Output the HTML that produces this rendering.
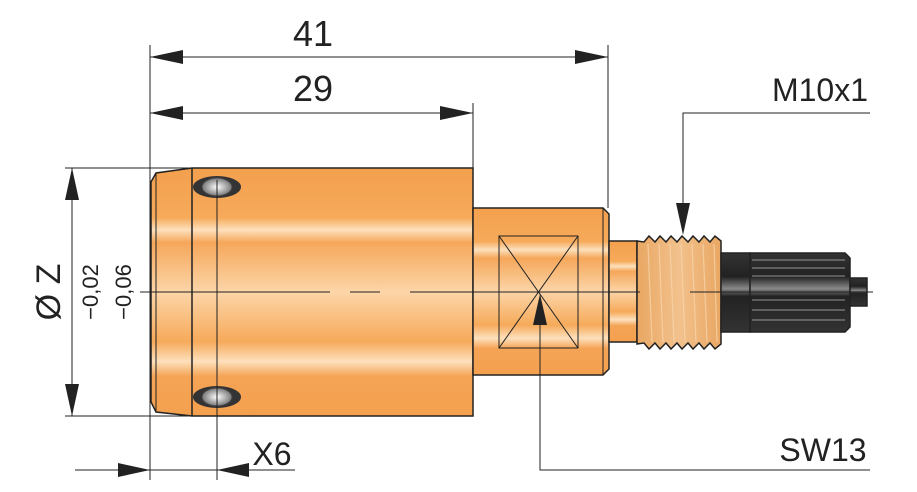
<!DOCTYPE html>
<html><head><style>html,body{margin:0;padding:0;background:#fff;}svg{display:block}</style></head>
<body>
<svg width="917" height="492" viewBox="0 0 917 492" xmlns="http://www.w3.org/2000/svg" font-family="Liberation Sans, sans-serif">
<defs>
<linearGradient id="o" x1="0" y1="0" x2="0" y2="1">
<stop offset="0" stop-color="#f3a04e"/><stop offset="0.2" stop-color="#f6aa5a"/>
<stop offset="0.25" stop-color="#fde0bd"/><stop offset="0.3" stop-color="#f5a75a"/>
<stop offset="0.5" stop-color="#fcd5a8"/><stop offset="0.7" stop-color="#f6aa5a"/>
<stop offset="0.78" stop-color="#fde0bd"/><stop offset="0.84" stop-color="#f5a456"/>
<stop offset="1" stop-color="#f3a04e"/></linearGradient>
<linearGradient id="t" x1="0" y1="0" x2="1" y2="0">
<stop offset="0" stop-color="#e9a763"/><stop offset="0.5" stop-color="#f2c18c"/><stop offset="1" stop-color="#e9a763"/></linearGradient>
<linearGradient id="k" x1="0" y1="0" x2="0" y2="1">
<stop offset="0" stop-color="#333"/><stop offset="0.3" stop-color="#222"/><stop offset="0.45" stop-color="#888"/><stop offset="0.55" stop-color="#222"/><stop offset="1" stop-color="#333"/></linearGradient>
<radialGradient id="h"><stop offset="0" stop-color="#fff"/><stop offset="1" stop-color="#777"/></radialGradient>
</defs>
<g stroke="#222" stroke-width="1.5">
<path d="M192 168 H473 V416 H192 L156 412 L151 402 V182 L156 173 Z" fill="url(#o)"/>
<line x1="192" y1="168" x2="192" y2="416"/>
<line x1="156" y1="173" x2="156" y2="412" stroke-width="1"/>
<path d="M473 208 H603 L609 214 V369 L603 375 H473 Z" fill="url(#o)"/>
<line x1="603" y1="208" x2="603" y2="375" stroke-width="1"/>
<rect x="499" y="236" width="79" height="112" fill="none" stroke-width="1"/>
<line x1="499" y1="236" x2="578" y2="348" stroke-width="1"/>
<line x1="578" y1="236" x2="499" y2="348" stroke-width="1"/>
<rect x="609" y="241" width="28" height="101" fill="url(#o)"/>
<path d="M637 241 L644 242 L649 236 L655 242 L660 236 L666 242 L671 236 L677 242 L682 236 L688 242 L693 236 L699 242 L704 236 L710 242 L715 236 L721 241 V344 L715 349 L710 343 L704 349 L699 343 L693 349 L688 343 L682 349 L677 343 L671 349 L666 343 L660 349 L655 343 L649 349 L644 343 L637 344 Z" fill="url(#t)"/>
<rect x="721" y="253" width="29" height="79" fill="url(#k)"/>
<path d="M750 253 H845 L850 258 V327 L845 332 H750 Z" fill="url(#k)"/>
<rect x="850" y="278" width="17" height="28" fill="url(#k)"/>
</g>
<g stroke="#f8d8b0" stroke-width="1.2" opacity="0.7">
<line x1="648" y1="244" x2="652" y2="342"/><line x1="659" y1="244" x2="663" y2="342"/><line x1="670" y1="244" x2="674" y2="342"/><line x1="681" y1="244" x2="685" y2="342"/><line x1="692" y1="244" x2="696" y2="342"/><line x1="703" y1="244" x2="707" y2="342"/><line x1="714" y1="244" x2="717" y2="342"/>
</g>
<g stroke="#bbb" stroke-width="0.8">
<line x1="752" y1="260" x2="845" y2="260"/><line x1="752" y1="268" x2="845" y2="268"/><line x1="752" y1="276" x2="845" y2="276"/><line x1="752" y1="300" x2="845" y2="300"/><line x1="752" y1="310" x2="845" y2="310"/><line x1="752" y1="320" x2="845" y2="320"/>
</g>
<ellipse cx="217" cy="187" rx="24" ry="11" fill="#333"/><ellipse cx="217" cy="187" rx="15" ry="9" fill="url(#h)" stroke="#444"/>
<ellipse cx="217" cy="397" rx="24" ry="11" fill="#333"/><ellipse cx="217" cy="397" rx="15" ry="9" fill="url(#h)" stroke="#444"/>
<g stroke="#222" stroke-width="1" fill="none">
<line x1="140" y1="292" x2="330" y2="292"/><line x1="350" y1="292" x2="380" y2="292"/><line x1="410" y1="292" x2="640" y2="292"/><line x1="690" y1="292" x2="873" y2="292"/>
<line x1="150" y1="45" x2="150" y2="480"/><line x1="217" y1="180" x2="217" y2="480"/>
<line x1="608" y1="45" x2="608" y2="208"/><line x1="473" y1="103" x2="473" y2="168"/>
<line x1="65" y1="168" x2="190" y2="168"/><line x1="65" y1="416" x2="190" y2="416"/>
<line x1="150" y1="57" x2="608" y2="57"/><line x1="150" y1="113" x2="473" y2="113"/>
<line x1="72" y1="168" x2="72" y2="416"/>
<line x1="75" y1="470" x2="295" y2="470"/>
<polyline points="870,113 683,113 683,215"/>
<polyline points="540,300 540,470 870,470"/>
</g>
<g fill="#222">
<polygon points="150,57 183,50 183,64"/><polygon points="608,57 575,50 575,64"/>
<polygon points="150,113 183,106 183,120"/><polygon points="473,113 440,106 440,120"/>
<polygon points="72,168 65,200 79,200"/><polygon points="72,416 65,384 79,384"/>
<polygon points="150,470 118,463 118,477"/><polygon points="217,470 249,463 249,477"/>
<polygon points="683,235 676,203 690,203"/>
<polygon points="540,294 533,325 547,325"/>
</g>
<g fill="#222">
<text x="313" y="46" font-size="36" text-anchor="middle">41</text>
<text x="313" y="101" font-size="36" text-anchor="middle">29</text>
<text x="820" y="101" font-size="32" text-anchor="middle">M10x1</text>
<text x="823" y="461" font-size="32" text-anchor="middle">SW13</text>
<text x="272" y="465" font-size="32" text-anchor="middle">X6</text>
<text transform="translate(60,292) rotate(-90)" font-size="34" text-anchor="middle">Ø Z</text>
<text transform="translate(98,292) rotate(-90)" font-size="22" text-anchor="middle">−0,02</text>
<text transform="translate(131,292) rotate(-90)" font-size="22" text-anchor="middle">−0,06</text>
</g>
</svg>
</body></html>
